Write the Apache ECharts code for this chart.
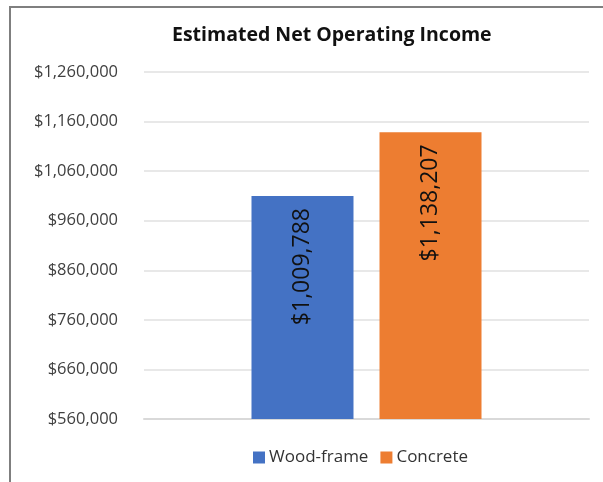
<!DOCTYPE html>
<html>
<head>
<meta charset="utf-8">
<script src="https://cdn.jsdelivr.net/npm/echarts@6/dist/echarts.min.js"></script>
<style>
  html, body { margin: 0; padding: 0; background: #ffffff; }
  #chart { width: 603px; height: 482px; }
</style>
</head>
<body>
<div id="chart"></div>
<script>
// Estimated net operating income by construction type
const categories = ['Estimated Net Operating Income'];
const seriesNames = ['Wood-frame', 'Concrete'];
const woodFrame = [1009788];
const concrete = [1138207];
const seriesColors = ['#4472C4', '#ED7D31'];
const yMin = 560000;
const yMax = 1260000;
const yStep = 100000;

const money = v => '$' + Math.round(v).toLocaleString('en-US');
const font = '"Open Sans", "DejaVu Sans", sans-serif';

const barLabel = {
  show: true,
  position: 'insideTop',
  rotate: 90,
  align: 'right',
  verticalAlign: 'middle',
  distance: 12,
  color: '#111111',
  fontFamily: font,
  fontSize: 23,
  formatter: p => money(p.value)
};

const chart = echarts.init(document.getElementById('chart'), null, { renderer: 'canvas' });
chart.setOption({
  animation: false,
  backgroundColor: '#ffffff',
  title: {
    text: 'Estimated Net Operating Income',
    left: 172,
    top: 25,
    padding: 0,
    textStyle: { fontFamily: font, fontSize: 19.5, fontWeight: 'bold', color: '#111111' }
  },
  graphic: [
    {
      type: 'polyline',
      shape: { points: [[10, 490], [10, 7], [610, 7]] },
      style: { stroke: '#7f7f7f', lineWidth: 2, fill: null },
      silent: true
    }
  ],
  legend: {
    data: seriesNames,
    top: 449,
    left: 253,
    padding: 0,
    itemWidth: 12,
    itemHeight: 12,
    itemGap: 12,
    icon: 'rect',
    textStyle: { fontFamily: font, fontSize: 17, color: '#333333', padding: [0, 0, 0, -1] }
  },
  grid: { left: 144, right: 14, top: 72, bottom: 63, containLabel: false },
  xAxis: {
    type: 'category',
    data: categories,
    axisLine: { show: true, lineStyle: { color: '#d9d9d9', width: 2 } },
    axisTick: { show: false },
    axisLabel: { show: false }
  },
  yAxis: {
    type: 'value',
    min: yMin,
    max: yMax,
    interval: yStep,
    axisLine: { show: false },
    axisTick: { show: false },
    splitLine: { lineStyle: { color: '#e0e0e0', width: 1.5 } },
    axisLabel: {
      margin: 26,
      fontFamily: font,
      fontSize: 16.5,
      color: '#404040',
      formatter: v => money(v)
    }
  },
  series: [
    {
      name: seriesNames[0],
      type: 'bar',
      data: woodFrame,
      barWidth: 102,
      barGap: '25.5%',
      itemStyle: { color: seriesColors[0] },
      label: barLabel
    },
    {
      name: seriesNames[1],
      type: 'bar',
      data: concrete,
      barWidth: 102,
      barGap: '25.5%',
      itemStyle: { color: seriesColors[1] },
      label: barLabel
    }
  ]
});
</script>
</body>
</html>
